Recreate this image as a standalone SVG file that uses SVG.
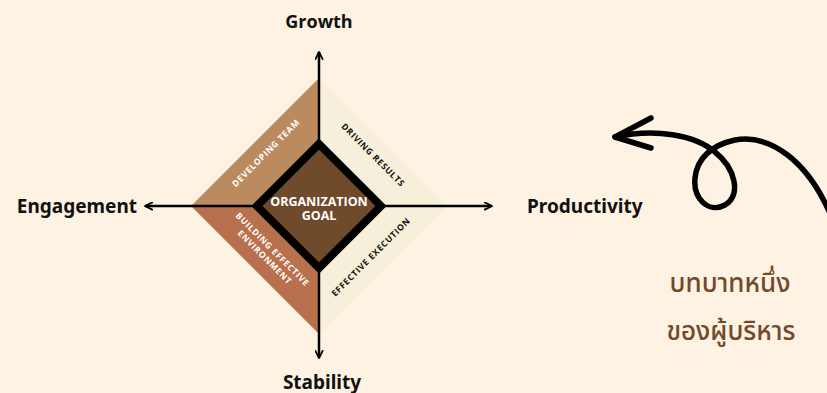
<svg xmlns="http://www.w3.org/2000/svg" width="827" height="393" viewBox="0 0 827 393">
<style>
.lbl{font-family:"Noto Sans","Liberation Sans",sans-serif;font-weight:700;font-size:19px;fill:#111}
.q{font-family:"Open Sans","Liberation Sans",sans-serif;font-weight:700;font-size:8.6px;letter-spacing:0.7px}
.g{font-family:"Open Sans","Liberation Sans",sans-serif;font-weight:700;font-size:12.5px;fill:#fff}
.ax{stroke:#000;stroke-width:2.5;fill:none}
.th{font-family:"Noto Sans Thai","Noto Sans","Noto Sans CJK SC",sans-serif;font-size:26px;font-weight:500;fill:#74492A;text-anchor:middle}
</style>
<defs>
<marker id="ah" viewBox="0 0 10 10" refX="9" refY="5" markerWidth="3.6" markerHeight="3.6" orient="auto" markerUnits="strokeWidth">
<path d="M1,1 L9,5 L1,9" fill="none" stroke="#000" stroke-width="2" stroke-linecap="round" stroke-linejoin="round"/>
</marker>
</defs>
<rect width="827" height="393" fill="#FEF2E3"/>
<g id="quadrants">
<polygon points="319,78 191,206 319,206" fill="#BC8A5F"/>
<polygon points="191,206 319,334 319,206" fill="#B9704C"/>
<polygon points="319,78 447,206 319,334" fill="#F6F0DA"/>
</g>
<g id="connectors">
<line class="ax" x1="319" y1="206" x2="319" y2="52" marker-end="url(#ah)"/>
<line class="ax" x1="319" y1="206" x2="319" y2="358" marker-end="url(#ah)"/>
<line class="ax" x1="319" y1="206" x2="145" y2="206" marker-end="url(#ah)"/>
<line class="ax" x1="319" y1="206" x2="492" y2="206" marker-end="url(#ah)"/>
<path d="M615,137 C655,128 695,135 715,152 C735,168 742,195 725,205 C708,214 693,198 695,178 C697,158 712,145 735,140 C770,134 808,160 832,218" fill="none" stroke="#000" stroke-width="5.5" stroke-linecap="round"/>
<polyline points="651,118 615,137 651,148" fill="none" stroke="#000" stroke-width="5.5" stroke-linecap="round" stroke-linejoin="round"/>
</g>
<g id="goal">
<polygon points="319,144 381,206 319,268 257,206" fill="#6F4A2B" stroke="#000" stroke-width="8" stroke-linejoin="miter"/>
<text class="g" x="319" y="206" text-anchor="middle">ORGANIZATION</text>
<text class="g" x="319" y="220" text-anchor="middle">GOAL</text>
</g>
<g id="developing-team">
<text class="q" fill="#fff" text-anchor="middle" transform="translate(266,153) rotate(-45)" y="3">DEVELOPING TEAM</text>
</g>
<g id="driving-results">
<text class="q" fill="#111" text-anchor="middle" transform="translate(373,155) rotate(45)" y="3">DRIVING RESULTS</text>
</g>
<g id="effective-execution">
<text class="q" fill="#111" text-anchor="middle" transform="translate(371,257) rotate(-45)" y="3">EFFECTIVE EXECUTION</text>
</g>
<g id="building-environment">
<text class="q" fill="#fff" text-anchor="middle" transform="translate(269,253) rotate(45)" y="-2">BUILDING EFFECTIVE</text>
<text class="q" fill="#fff" text-anchor="middle" transform="translate(269,253) rotate(45)" y="9">ENVIRONMENT</text>
</g>
<g id="growth"><text x="319" y="28" text-anchor="middle" style="font-family:'Open Sans','Liberation Sans',sans-serif;font-weight:700;font-size:18px;fill:#111">Growth</text></g>
<g id="engagement"><text class="lbl" x="137" y="213" text-anchor="end">Engagement</text></g>
<g id="productivity"><text class="lbl" x="527" y="213">Productivity</text></g>
<g id="stability"><text class="lbl" x="322" y="389" text-anchor="middle">Stability</text></g>
<g id="thai">
<text class="th" x="730" y="292">บทบาทหนึ่ง</text>
<text class="th" x="731" y="340">ของผู้บริหาร</text>
</g>
</svg>
